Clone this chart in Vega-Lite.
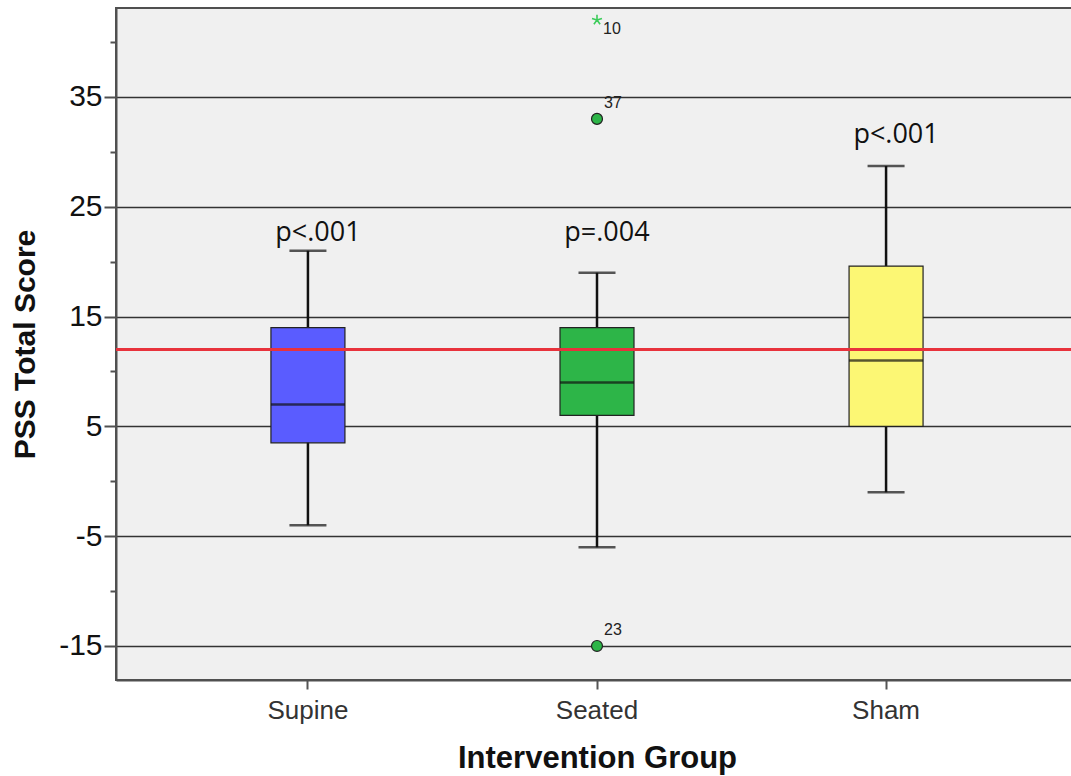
{
  "$schema": "https://vega.github.io/schema/vega-lite/v6.json",
  "width": 962,
  "height": 672,
  "autosize": "none",
  "padding": {"left": 116, "top": 8, "right": 0, "bottom": 96},
  "background": "white",
  "config": {"view": {"fill": "#f0f0f0", "stroke": "#505050", "strokeWidth": 2}},
  "datasets": {
    "boxes": [
      {"group": "Supine", "lower": -4, "q1": 3.5, "median": 7, "q3": 14, "upper": 21, "p": "p<.001", "py": 22.6},
      {"group": "Seated", "lower": -6, "q1": 6, "median": 9, "q3": 14, "upper": 19, "p": "p=.004", "py": 22.6},
      {"group": "Sham", "lower": -1, "q1": 5, "median": 11, "q3": 19.6, "upper": 28.7, "p": "p<.001", "py": 31.5}
    ],
    "outliers": [
      {"group": "Seated", "value": 33, "label": "37", "kind": "outlier"},
      {"group": "Seated", "value": -15, "label": "23", "kind": "outlier"},
      {"group": "Seated", "value": 42, "label": "10", "kind": "extreme"}
    ]
  },
  "resolve": {"axis": {"y": "independent"}, "scale": {"y": "shared"}},
  "layer": [
    {
      "data": {"name": "boxes"},
      "encoding": {
        "x": {
          "field": "group", "type": "nominal", "sort": ["Supine", "Seated", "Sham"],
          "scale": {"type": "band", "paddingInner": 0, "paddingOuter": 0.164},
          "axis": {
            "title": "Intervention Group", "labelAngle": 0, "labelFontSize": 26, "labelFont": "Liberation Sans",
            "labelColor": "#333", "labelPadding": 8, "tickSize": 9, "tickColor": "#555", "tickWidth": 2,
            "domainColor": "#505050", "domainWidth": 2, "titleFontSize": 31, "titleFont": "Liberation Sans",
            "titleFontWeight": "bold", "titleColor": "#111", "titlePadding": 20
          }
        }
      },
      "layer": [
        {
          "mark": {"type": "rule", "color": "#111", "strokeWidth": 2.5},
          "encoding": {
            "y": {
              "field": "lower", "type": "quantitative",
              "scale": {"domain": [-18.1, 43.1], "nice": false, "zero": false},
              "axis": {
                "values": [-15, -5, 5, 15, 25, 35], "grid": true, "gridColor": "#333", "gridWidth": 1.5,
                "tickSize": 12, "tickColor": "#505050", "tickWidth": 2, "labelFontSize": 30,
                "labelExpr": "datum.value < 0 ? '-' + abs(datum.value) : '' + datum.value",
                "labelFont": "Liberation Sans", "labelColor": "#111", "labelPadding": 2,
                "title": "PSS Total Score", "titleFontSize": 30, "titleFontWeight": "bold",
                "titleFont": "Liberation Sans", "titleColor": "#111", "titlePadding": 18,
                "domainColor": "#505050", "domainWidth": 2, "orient": "left"
              }
            },
            "y2": {"field": "upper"}
          }
        },
        {
          "mark": {"type": "tick", "color": "#111", "size": 37, "thickness": 2.5},
          "encoding": {"y": {"field": "upper", "type": "quantitative"}}
        },
        {
          "mark": {"type": "tick", "color": "#111", "size": 37, "thickness": 2.5},
          "encoding": {"y": {"field": "lower", "type": "quantitative"}}
        },
        {
          "mark": {"type": "bar", "width": 74, "stroke": "#222", "strokeWidth": 1.2},
          "encoding": {
            "y": {"field": "q1", "type": "quantitative"},
            "y2": {"field": "q3"},
            "color": {
              "field": "group", "type": "nominal", "legend": null,
              "scale": {"domain": ["Supine", "Seated", "Sham"], "range": ["#5a5cff", "#2db548", "#fcf774"]}
            }
          }
        },
        {
          "mark": {"type": "tick", "color": "#111", "size": 74, "thickness": 2.5},
          "encoding": {"y": {"field": "median", "type": "quantitative"}}
        },
        {
          "mark": {"type": "text", "font": "Open Sans", "fontSize": 27, "color": "#111", "dx": 10, "baseline": "middle"},
          "encoding": {"y": {"field": "py", "type": "quantitative"}, "text": {"field": "p"}}
        },
        {
          "data": {"name": "outliers"},
          "transform": [{"filter": "datum.kind === 'outlier'"}],
          "mark": {"type": "point", "shape": "circle", "filled": true, "fill": "#2db548", "stroke": "#222", "strokeWidth": 1.2, "size": 120, "opacity": 1},
          "encoding": {"y": {"field": "value", "type": "quantitative"}}
        },
        {
          "data": {"name": "outliers"},
          "transform": [{"filter": "datum.kind === 'extreme'"}],
          "mark": {"type": "point", "shape": "M0,-1L0,0.1M-0.95,-0.31L0,0M0.95,-0.31L0,0M0,0L0.59,0.81M0,0L-0.59,0.81", "filled": false, "stroke": "#3ccc5a", "strokeWidth": 1.6, "size": 110, "opacity": 1},
          "encoding": {"y": {"field": "value", "type": "quantitative"}}
        },
        {
          "data": {"name": "outliers"},
          "transform": [{"filter": "datum.kind === 'outlier'"}],
          "mark": {"type": "text", "font": "Liberation Sans", "fontSize": 16, "color": "#222", "dx": 7, "dy": -16, "align": "left", "baseline": "middle"},
          "encoding": {"y": {"field": "value", "type": "quantitative"}, "text": {"field": "label"}}
        },
        {
          "data": {"name": "outliers"},
          "transform": [{"filter": "datum.kind === 'extreme'"}],
          "mark": {"type": "text", "font": "Liberation Sans", "fontSize": 16, "color": "#222", "dx": 6, "dy": 9, "align": "left", "baseline": "middle"},
          "encoding": {"y": {"field": "value", "type": "quantitative"}, "text": {"field": "label"}}
        }
      ]
    },
    {
      "data": {"values": [{"ref": 12}]},
      "mark": {"type": "rule", "color": "#e8323c", "strokeWidth": 3},
      "encoding": {
        "y": {
          "field": "ref", "type": "quantitative",
          "axis": {
            "orient": "left", "values": [-10, 0, 10, 20, 30, 40], "labels": false, "grid": false,
            "tickSize": 6, "tickColor": "#505050", "tickWidth": 2, "domain": false, "title": null
          }
        }
      }
    }
  ]
}
